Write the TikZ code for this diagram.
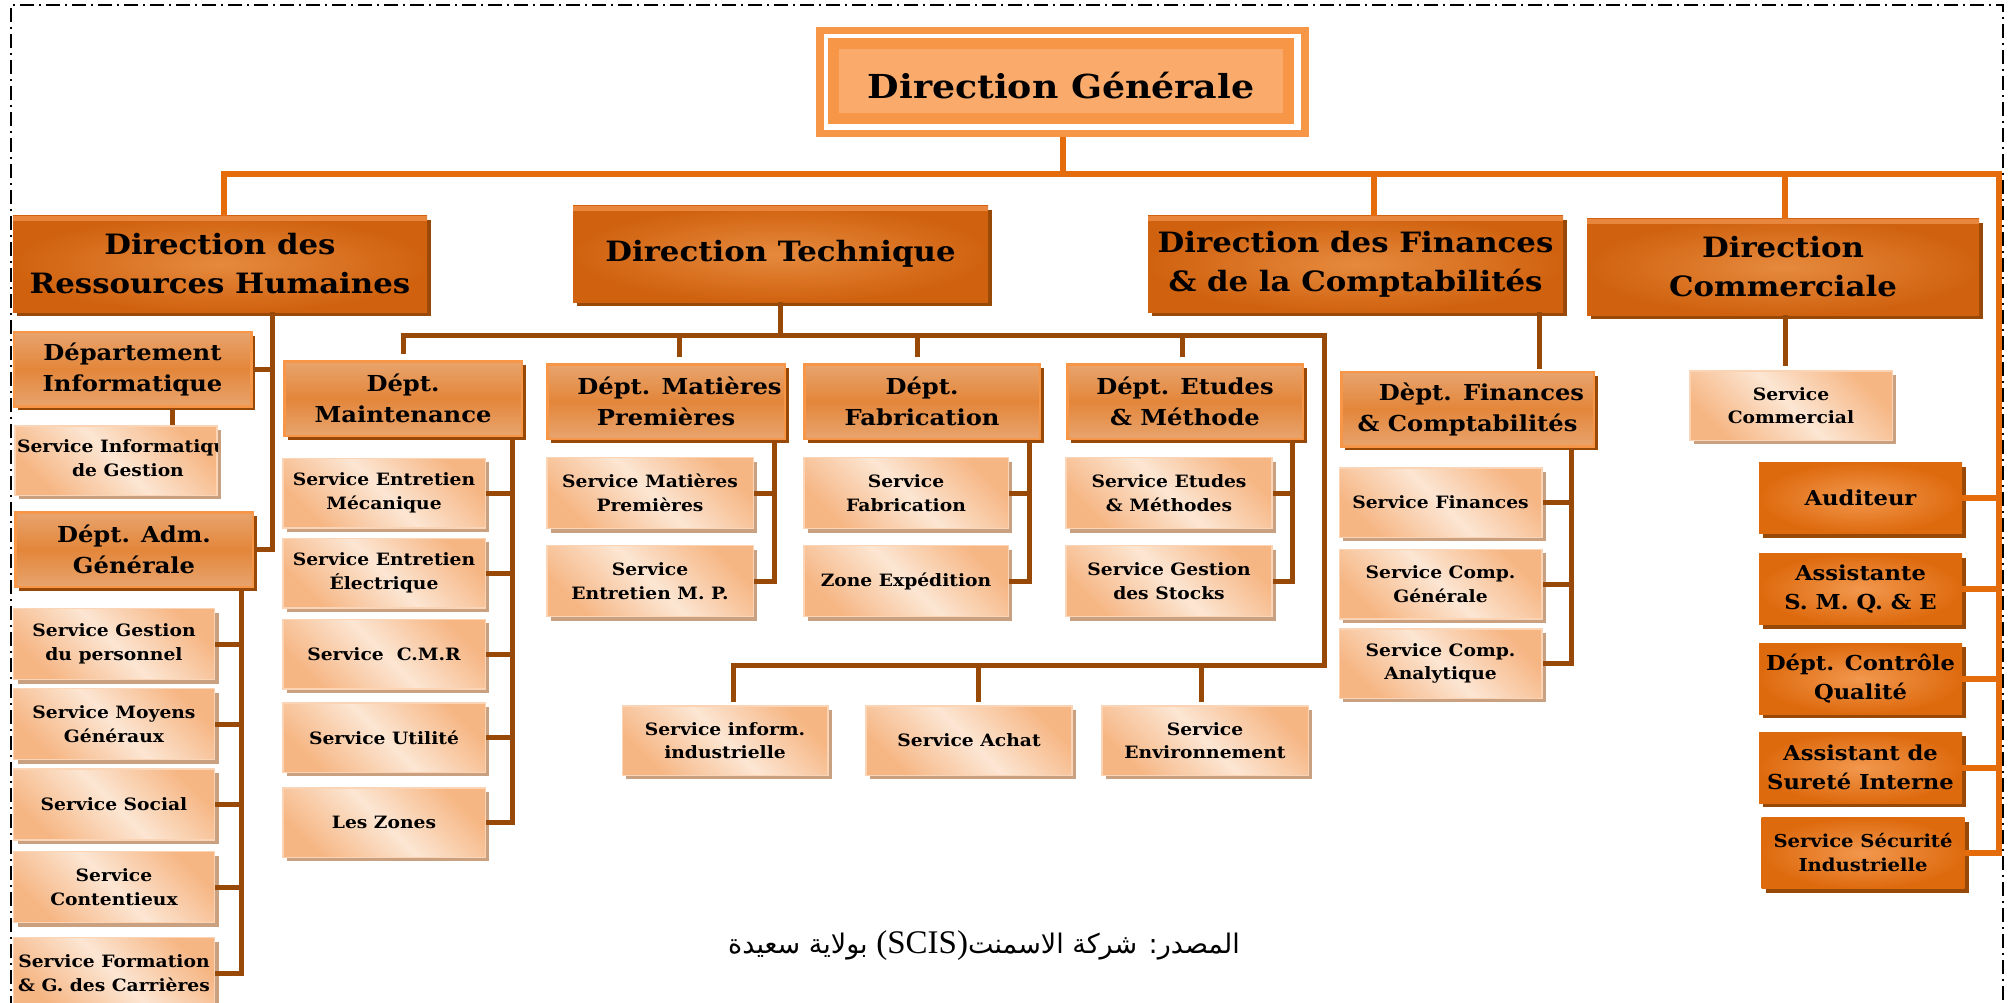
\documentclass[tikz,border=0pt]{standalone}
\usepackage{fontspec}
\setmainfont{DejaVu Serif}[FakeStretch=1.1]
\newfontfamily\arabicfont[Script=Arabic]{DejaVu Sans}
\newfontfamily\latinserif{Liberation Serif}
\TeXXeTstate=1
\usetikzlibrary{calc}
\usetikzlibrary{shadows}
\definecolor{dg-orange}{RGB}{247, 150, 70}
\definecolor{dg-light}{RGB}{250, 171, 108}
\definecolor{top-orange}{RGB}{228, 108, 10}
\definecolor{low-brown}{RGB}{152, 72, 7}
\definecolor{dir-outer}{RGB}{208, 98, 15}
\definecolor{dir-inner}{RGB}{230, 138, 62}
\definecolor{dir-top}{RGB}{232, 134, 62}
\definecolor{dept-edge}{RGB}{232, 164, 110}
\definecolor{dept-mid}{RGB}{227, 134, 58}
\definecolor{svc-dark}{RGB}{246, 182, 132}
\definecolor{svc-light}{RGB}{252, 230, 211}
\definecolor{svc-border}{RGB}{250, 212, 180}
\definecolor{svc-shadow}{RGB}{201, 160, 128}
\definecolor{staff-outer}{RGB}{222, 106, 14}
\definecolor{staff-inner}{RGB}{242, 152, 78}

\tikzset{
    top-line/.style={draw=top-orange, line width=6pt},
    low-line/.style={draw=low-brown, line width=5pt},
    page-border/.style={draw=black, line width=1.5pt, dash pattern=on 14pt off 5pt on 2pt off 5pt},
    brown-shadow/.style={drop shadow={shadow xshift=4pt, shadow yshift=-4pt, opacity=1, fill=low-brown}},
    dgbox/.style={rectangle, fill=dg-light, draw=dg-orange, line width=11pt, minimum width=455pt, minimum height=75pt,
        font=\bfseries\fontsize{33}{38}\selectfont, text height=36pt, text depth=0pt},
    dirbox/.style={rectangle, inner color=dir-inner, outer color=dir-outer, minimum width=414pt, minimum height=96pt,
        inner sep=0pt, align=center, font=\bfseries\fontsize{28}{39}\selectfont, brown-shadow},
    deptbox/.style={rectangle, draw=dg-orange, line width=2.5pt, top color=dept-edge, bottom color=dept-edge,
        middle color=dept-mid, minimum width=237.5pt, minimum height=74.5pt, inner sep=0pt, align=center,
        font=\bfseries\fontsize{22}{31}\selectfont, brown-shadow},
    svctext/.style={align=center, font=\bfseries\fontsize{17}{23.4}\selectfont},
    svcbox/.style={rectangle, draw=svc-border, line width=1.5pt, top color=svc-dark, bottom color=svc-dark,
        middle color=svc-light, shading angle=-45, minimum width=202.5pt, minimum height=69.5pt, inner sep=0pt,
        svctext, drop shadow={shadow xshift=4pt, shadow yshift=-4pt, opacity=1, fill=svc-shadow}},
    staffbox/.style={rectangle, inner color=staff-inner, outer color=staff-outer, minimum width=203pt,
        minimum height=71pt, inner sep=0pt, align=center, font=\bfseries\fontsize{20.6}{29}\selectfont, brown-shadow}
}

\begin{document}
\begin{tikzpicture}[x=1pt, y=-1pt]
    \useasboundingbox (0, 0) rectangle (2011, 1003);
    \draw[page-border] (11, 1010) -- (11, 5) -- (2003, 5) -- (2003, 1010);

    % direction generale
    \node[rectangle, fill=dg-orange, minimum width=493pt, minimum height=110pt] (dg-frame) at (1062.5, 82) {};
    \node[rectangle, fill=white, minimum width=477pt, minimum height=96pt] (dg-gap) at (1062.5, 82) {};
    \node[dgbox] (dg) at (1061, 81) {Direction Générale};

    % directions
    \node[dirbox] (drh) at (220, 264) {Direction des\\Ressources Humaines};
    \node[dirbox, minimum width=415pt] (dt) at (780.5, 254) {Direction Technique};
    \node[dirbox, minimum width=415pt] (dfc) at (1355.5, 264) {Direction des Finances\\\& de la Comptabilités};
    \node[dirbox, minimum width=392pt] (dc) at (1783, 267) {Direction\\Commerciale};
    \foreach \n in {drh, dt, dfc, dc}
        \fill[dir-top] (\n.north west) rectangle ([yshift=-5pt]\n.north east);

    % departements
    \node[deptbox] (dinf) at (132.5, 369) {Département\\Informatique};
    \node[deptbox] (dadm) at (134, 549.5) {Dépt. Adm.\\Générale};
    \node[deptbox] (maint) at (403, 398.5) {Dépt.\\Maintenance};
    \node[deptbox] (mp) at (666, 401.5) {\hspace*{27pt}Dépt. Matières\\Premières};
    \node[deptbox, minimum width=235.5pt] (fab) at (922, 401.5) {Dépt.\\Fabrication};
    \node[deptbox, minimum width=235.5pt] (etu) at (1185, 401.5) {Dépt. Etudes\\\& Méthode};
    \node[deptbox, minimum width=252.5pt] (dfin) at (1467.5, 409) {\hspace*{28pt}Dèpt. Finances\\\& Comptabilités};

    % services RH
    \node[svcbox, minimum width=202pt] (sig) at (116, 460.5) {};
    \begin{scope}
        \clip (sig.south west) rectangle (sig.north east);
        \node[svctext] (sig-text) at (128, 458) {Service Informatique\\de Gestion};
    \end{scope}
    \node[svcbox, minimum width=201pt, minimum height=71pt] (sgp) at (114, 644) {Service Gestion\\du personnel};
    \node[svcbox, minimum width=201pt, minimum height=71pt] (smg) at (114, 724) {Service Moyens\\Généraux};
    \node[svcbox, minimum width=201pt, minimum height=71pt] (ss) at (114, 804.5) {Service Social};
    \node[svcbox, minimum width=201pt, minimum height=71pt] (sc) at (114, 887) {Service\\Contentieux};
    \node[svcbox, minimum width=201pt, minimum height=71pt] (sfgc) at (114, 973) {Service Formation\\\& G. des Carrières};

    % services techniques
    \node[svcbox] (sem) at (384, 493) {Service Entretien\\Mécanique};
    \node[svcbox] (see) at (384, 573) {Service Entretien\\Électrique};
    \node[svcbox] (scmr) at (384, 654) {Service\ \ C.M.R};
    \node[svcbox] (su) at (384, 737.5) {Service Utilité};
    \node[svcbox] (lz) at (384, 822.5) {Les Zones};
    \node[svcbox, minimum width=206.5pt, minimum height=71pt] (smp) at (650, 493) {Service Matières\\Premières};
    \node[svcbox, minimum width=206.5pt, minimum height=71pt] (semp) at (650, 581) {Service\\Entretien M. P.};
    \node[svcbox, minimum width=204.5pt, minimum height=71pt] (sf) at (906, 493) {Service\\Fabrication};
    \node[svcbox, minimum width=204.5pt, minimum height=71pt] (ze) at (906, 581) {Zone Expédition};
    \node[svcbox, minimum width=206pt, minimum height=71pt] (set) at (1169, 493) {Service Etudes\\\& Méthodes};
    \node[svcbox, minimum width=206pt, minimum height=71pt] (sgs) at (1169, 581) {Service Gestion\\des Stocks};
    \node[svcbox, minimum width=205.5pt] (sii) at (725, 740.5) {Service inform.\\industrielle};
    \node[svcbox, minimum width=206pt] (sach) at (969, 740.5) {Service Achat};
    \node[svcbox, minimum width=206.5pt] (senv) at (1205, 740.5) {Service\\Environnement};

    % services finances et commercial
    \node[svcbox] (sfin) at (1440.5, 502.5) {Service Finances};
    \node[svcbox] (scg) at (1440.5, 584) {Service Comp.\\Générale};
    \node[svcbox] (sca) at (1440.5, 663.5) {Service Comp.\\Analytique};
    \node[svcbox] (scom) at (1791, 405.5) {Service\\Commercial};

    % staff
    \node[staffbox] (aud) at (1860.5, 498) {Auditeur};
    \node[staffbox] (asmq) at (1860.5, 589) {Assistante\\S. M. Q. \& E};
    \node[staffbox] (dcq) at (1860.5, 678.5) {Dépt. Contrôle\\Qualité};
    \node[staffbox] (asi) at (1860.5, 767.5) {Assistant de\\Sureté Interne};
    \node[staffbox, font=\bfseries\fontsize{17.8}{24}\selectfont] (ssi) at (1863, 853) {Service Sécurité\\Industrielle};

    % top connectors
    \coordinate (top-bus) at ([yshift=-37pt]dg-frame.south);
    \coordinate (staff-bus) at ([xshift=34pt]ssi.east |- top-bus);
    \draw[top-line] (dg-frame.south) -- (top-bus);
    \draw[top-line] ([xshift=4pt]drh.north) |- (staff-bus) |- (ssi.east);
    \draw[top-line] ([xshift=18pt]dfc.north) -- ([xshift=18pt]dfc.north |- top-bus);
    \draw[top-line] ([xshift=2pt]dc.north) -- ([xshift=2pt]dc.north |- top-bus);
    \draw[top-line] (aud.east) -- (aud.east -| staff-bus);
    \draw[top-line] (asmq.east) -- (asmq.east -| staff-bus);
    \draw[top-line] (dcq.east) -- (dcq.east -| staff-bus);
    \draw[top-line] (asi.east) -- (asi.east -| staff-bus);

    % ressources humaines
    \coordinate (hr-bus) at ([xshift=52pt]drh.south);
    \draw[low-line] (hr-bus) |- (dadm.east);
    \draw[low-line] (dinf.east) -- (dinf.east -| hr-bus);
    \draw[low-line] ([xshift=40pt]dinf.south) -- ([xshift=40pt]dinf.south |- sig.north);
    \coordinate (adm-bus) at ([xshift=-13pt]dadm.south east);
    \draw[low-line] (adm-bus) |- (sfgc.east);
    \draw[low-line] (sgp.east) -- (sgp.east -| adm-bus);
    \draw[low-line] (smg.east) -- (smg.east -| adm-bus);
    \draw[low-line] (ss.east) -- (ss.east -| adm-bus);
    \draw[low-line] (sc.east) -- (sc.east -| adm-bus);

    % direction technique
    \coordinate (dt-bus) at ([yshift=-33pt]dt.south);
    \coordinate (dt-corner) at ([xshift=20pt]etu.east |- dt-bus);
    \coordinate (dt-low) at ([yshift=40pt]sii.north -| dt-corner);
    \draw[low-line] (dt.south) -- (dt-bus);
    \draw[low-line] ([yshift=6pt]maint.north) |- (dt-corner) -- (dt-low) -| ([xshift=8pt, yshift=3pt]sii.north);
    \draw[low-line] ([xshift=13pt, yshift=6pt]mp.north) -- ([xshift=13pt]mp.north |- dt-bus);
    \draw[low-line] ([xshift=-5pt, yshift=6pt]fab.north) -- ([xshift=-5pt]fab.north |- dt-bus);
    \draw[low-line] ([xshift=-3pt, yshift=6pt]etu.north) -- ([xshift=-3pt]etu.north |- dt-bus);
    \draw[low-line] ([xshift=9pt, yshift=3pt]sach.north) -- ([xshift=9pt]sach.north |- dt-low);
    \draw[low-line] ([xshift=-4pt, yshift=3pt]senv.north) -- ([xshift=-4pt]senv.north |- dt-low);
    \coordinate (maint-bus) at ([xshift=-10.5pt]maint.south east);
    \draw[low-line] (maint-bus) |- (lz.east);
    \draw[low-line] (sem.east) -- (sem.east -| maint-bus);
    \draw[low-line] (see.east) -- (see.east -| maint-bus);
    \draw[low-line] (scmr.east) -- (scmr.east -| maint-bus);
    \draw[low-line] (su.east) -- (su.east -| maint-bus);
    \coordinate (mp-bus) at ([xshift=-12pt]mp.south east);
    \draw[low-line] (mp-bus) |- (semp.east);
    \draw[low-line] (smp.east) -- (smp.east -| mp-bus);
    \coordinate (fab-bus) at ([xshift=-11.5pt]fab.south east);
    \draw[low-line] (fab-bus) |- (ze.east);
    \draw[low-line] (sf.east) -- (sf.east -| fab-bus);
    \coordinate (etu-bus) at ([xshift=-11.5pt]etu.south east);
    \draw[low-line] (etu-bus) |- (sgs.east);
    \draw[low-line] (set.east) -- (set.east -| etu-bus);

    % finances et commercial
    \draw[low-line] ([xshift=-24pt]dfc.south east) -- ([xshift=-24pt, yshift=2pt]dfc.south east |- dfin.north);
    \coordinate (fin-bus) at ([xshift=-24pt]dfin.south east);
    \draw[low-line] (fin-bus) |- (sca.east);
    \draw[low-line] (sfin.east) -- (sfin.east -| fin-bus);
    \draw[low-line] (scg.east) -- (scg.east -| fin-bus);
    \draw[low-line] ([xshift=2pt]dc.south) -- ([xshift=2pt, yshift=4pt]dc.south |- scom.north);

    % source
    \node (source) at (984, 946) {\arabicfont\fontsize{27}{34}\selectfont\beginR المصدر: شركة الاسمنت\beginL{\latinserif\fontsize{33}{34}\selectfont(SCIS)}\endL{} بولاية سعيدة\endR};
\end{tikzpicture}
\end{document}
